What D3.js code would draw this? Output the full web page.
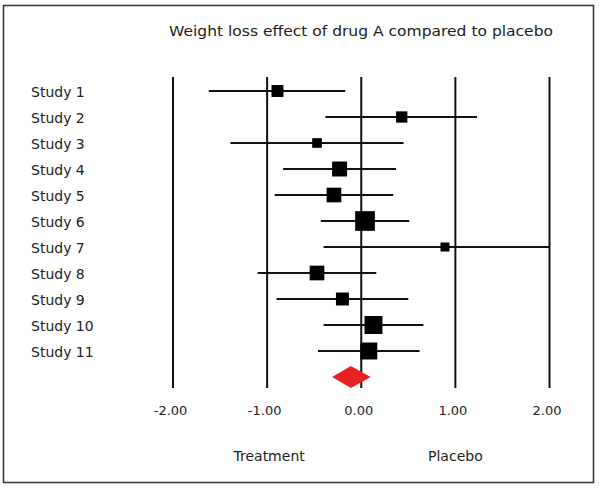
<!DOCTYPE html>
<html>
<head>
<meta charset="utf-8">
<script src="https://cdn.jsdelivr.net/npm/d3@7"></script>
<style>
  html, body { margin: 0; padding: 0; background: #fff; }
  svg { display: block; }
  text { font-family: "DejaVu Sans", sans-serif; fill: #222; }
</style>
</head>
<body>
<svg id="chart" width="599" height="490"></svg>
<script>
// ---- data ----
const studies = ["Study 1","Study 2","Study 3","Study 4","Study 5","Study 6","Study 7","Study 8","Study 9","Study 10","Study 11"];
const effects = [-0.89, 0.43, -0.47, -0.23, -0.29, 0.04, 0.89, -0.47, -0.20, 0.13, 0.08];
const lowerCI = [-1.62, -0.38, -1.39, -0.83, -0.92, -0.43, -0.40, -1.10, -0.90, -0.40, -0.46];
const upperCI = [-0.17, 1.23, 0.45, 0.37, 0.34, 0.51, 2.00, 0.16, 0.50, 0.66, 0.62];
const weights = [6.3, 5.6, 4.1, 9.9, 9.5, 17.1, 3.6, 9.5, 7.4, 14.2, 12.7];
const pooled = { est: -0.11, lo: -0.31, hi: 0.10 };
const tickValues = [-2, -1, 0, 1, 2];
const tickLabels = ["-2.00", "-1.00", "0.00", "1.00", "2.00"];
const title = "Weight loss effect of drug A compared to placebo";
const sideLabels = ["Treatment", "Placebo"];

// ---- layout ----
const svg = d3.select("#chart");
const x = d3.scaleLinear().domain([-2, 2]).range([173, 549.5]);
const rows = studies.concat(["Pooled"]);
const y = d3.scalePoint().domain(rows).range([91, 377]);
const size = d3.scaleSqrt().domain([0, d3.max(weights)]).range([0, 19.7]);

// frame
svg.append("rect")
  .attr("x", 3.5).attr("y", 5.5).attr("width", 590).attr("height", 477)
  .attr("fill", "none").attr("stroke", "#3a3a3a").attr("stroke-width", 1.6);

// title
svg.append("text")
  .attr("x", 361).attr("y", 35.5)
  .attr("text-anchor", "middle")
  .attr("font-size", 14.5)
  .attr("textLength", 384).attr("lengthAdjust", "spacingAndGlyphs")
  .text(title);

// vertical reference lines
svg.append("g").selectAll("line").data(tickValues).join("line")
  .attr("x1", d => x(d)).attr("x2", d => x(d))
  .attr("y1", 77).attr("y2", 388)
  .attr("stroke", "#111").attr("stroke-width", 2);

// tick labels (axis)
const axis = d3.axisBottom(x).tickValues(tickValues)
  .tickFormat((d, i) => tickLabels[i]).tickSize(0).tickPadding(0);
const ax = svg.append("g").attr("transform", "translate(0,406)").call(axis);
ax.select(".domain").remove();
ax.selectAll("text")
  .attr("font-size", 13).attr("fill", "#222")
  .attr("font-family", "DejaVu Sans, sans-serif")
  .attr("dx", "-3");

// study labels
svg.append("g").selectAll("text").data(studies).join("text")
  .attr("x", 31).attr("y", d => y(d) + 5.5)
  .attr("font-size", 14)
  .text(d => d);

// CI lines
const data = studies.map((s, i) => ({ s, e: effects[i], lo: lowerCI[i], hi: upperCI[i], w: weights[i] }));
svg.append("g").selectAll("line").data(data).join("line")
  .attr("x1", d => x(d.lo)).attr("x2", d => x(d.hi))
  .attr("y1", d => y(d.s)).attr("y2", d => y(d.s))
  .attr("stroke", "#111").attr("stroke-width", 2);

// squares
svg.append("g").selectAll("rect").data(data).join("rect")
  .attr("x", d => x(d.e) - size(d.w) / 2)
  .attr("y", d => y(d.s) - size(d.w) / 2)
  .attr("width", d => size(d.w)).attr("height", d => size(d.w))
  .attr("fill", "#000");

// pooled diamond
const py = y("Pooled");
svg.append("path")
  .attr("d", `M${x(pooled.lo)},${py} L${x(pooled.est)},${py - 11} L${x(pooled.hi)},${py} L${x(pooled.est)},${py + 11} Z`)
  .attr("fill", "#e62322");

// side labels
svg.append("g").selectAll("text").data(sideLabels).join("text")
  .attr("x", (d, i) => x(i === 0 ? -1 : 1) + (i === 0 ? 2 : 0))
  .attr("y", 461)
  .attr("text-anchor", "middle")
  .attr("font-size", 14)
  .text(d => d);
</script>
</body>
</html>
